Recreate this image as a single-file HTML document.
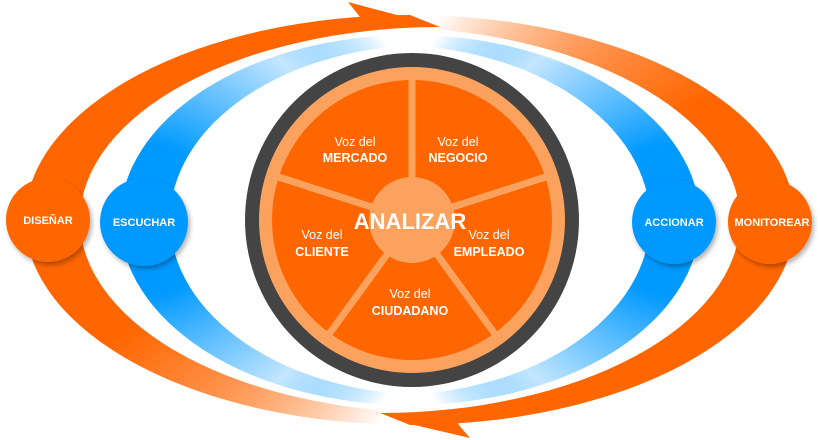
<!DOCTYPE html>
<html><head><meta charset="utf-8"><style>
html,body{margin:0;padding:0;background:#fff;}
svg{display:block;font-family:"Liberation Sans",Arial,sans-serif;}
</style></head><body>
<svg width="820" height="440" viewBox="0 0 820 440" xmlns="http://www.w3.org/2000/svg">
<defs>
<radialGradient id="oL" gradientUnits="userSpaceOnUse" cx="48" cy="220" r="390">
<stop offset="0" stop-color="#FF6600"/><stop offset="0.35" stop-color="#FF6600"/><stop offset="0.6" stop-color="#FF8E45"/><stop offset="1" stop-color="#FF6600" stop-opacity="0"/></radialGradient>
<radialGradient id="oR" gradientUnits="userSpaceOnUse" cx="770" cy="220" r="390">
<stop offset="0" stop-color="#FF6600"/><stop offset="0.35" stop-color="#FF6600"/><stop offset="0.6" stop-color="#FF8E45"/><stop offset="1" stop-color="#FF6600" stop-opacity="0"/></radialGradient>
<radialGradient id="bL" gradientUnits="userSpaceOnUse" cx="144" cy="220" r="300">
<stop offset="0" stop-color="#0099FF"/><stop offset="0.25" stop-color="#0099FF"/><stop offset="0.45" stop-color="#5CBDFF"/><stop offset="0.7" stop-color="#C4E6FF"/><stop offset="1" stop-color="#0099FF" stop-opacity="0"/></radialGradient>
<radialGradient id="bR" gradientUnits="userSpaceOnUse" cx="674" cy="220" r="300">
<stop offset="0" stop-color="#0099FF"/><stop offset="0.25" stop-color="#0099FF"/><stop offset="0.45" stop-color="#5CBDFF"/><stop offset="0.7" stop-color="#C4E6FF"/><stop offset="1" stop-color="#0099FF" stop-opacity="0"/></radialGradient>
<filter id="sh" x="-30%" y="-30%" width="160%" height="160%"><feDropShadow dx="2" dy="3" stdDeviation="2.5" flood-color="#000" flood-opacity="0.3"/></filter>
</defs>
<path d="M410 15 A385 205 0 0 0 25 220 L80 220 A360 193 0 0 1 440 27 Z" fill="#FF6600"/>
<path d="M25 220 A385 205 0 0 0 410 425 L440 413 A360 193 0 0 1 80 220 Z" fill="url(#oL)"/>
<polygon points="348,2 408,18 345,30 360,17" fill="#FF6600"/>
<path d="M410 425 A385 205 0 0 0 795 220 L740 220 A360 193 0 0 1 380 413 Z" fill="#FF6600"/>
<path d="M795 220 A385 205 0 0 0 410 15 L380 27 A360 193 0 0 1 740 220 Z" fill="url(#oR)"/>
<polygon points="470,438 410,424 470,411 458,424" fill="#FF6600"/>
<path d="M410 35 A290 185 0 0 0 410 405 L430 395 A260 175 0 0 1 430 45 Z" fill="url(#bL)"/>
<path d="M410 35 A290 185 0 0 1 410 405 L390 395 A260 175 0 0 0 390 45 Z" fill="url(#bR)"/>
<circle cx="412" cy="220" r="167" fill="#444"/>
<circle cx="412" cy="220" r="153" fill="#FBA35E"/>
<circle cx="412" cy="220" r="140" fill="#FF6600"/>
<g stroke="#FBA35E" stroke-width="7">
<line x1="412" y1="220" x2="412" y2="70"/>
<line x1="412" y1="220" x2="555" y2="174"/>
<line x1="412" y1="220" x2="500" y2="341"/>
<line x1="412" y1="220" x2="324" y2="341"/>
<line x1="412" y1="220" x2="269" y2="174"/>
</g>
<circle cx="412" cy="220" r="43" fill="#FBA35E"/>
<text x="410" y="229" fill="#fff" font-size="22" font-weight="bold" text-anchor="middle">ANALIZAR</text>
<g fill="#fff" font-size="12.5" text-anchor="middle">
<text x="355" y="146">Voz del</text><text x="355" y="162" font-weight="bold">MERCADO</text>
<text x="458" y="146">Voz del</text><text x="458" y="162" font-weight="bold">NEGOCIO</text>
<text x="322" y="239">Voz del</text><text x="322" y="256" font-weight="bold">CLIENTE</text>
<text x="489" y="239">Voz del</text><text x="489" y="256" font-weight="bold">EMPLEADO</text>
<text x="410" y="298">Voz del</text><text x="410" y="315" font-weight="bold">CIUDADANO</text>
</g>
<g filter="url(#sh)">
<circle cx="48" cy="220" r="42" fill="#FF6600"/>
<circle cx="144" cy="222" r="44" fill="#0099FF"/>
<circle cx="674" cy="222" r="42" fill="#0099FF"/>
<circle cx="770" cy="222" r="42" fill="#FF6600"/>
</g>
<g fill="#fff" font-size="11" font-weight="bold" text-anchor="middle">
<text x="48" y="224">DISEÑAR</text>
<text x="144" y="226">ESCUCHAR</text>
<text x="674" y="226">ACCIONAR</text>
<text x="772" y="226">MONITOREAR</text>
</g>
</svg>
</body></html>
